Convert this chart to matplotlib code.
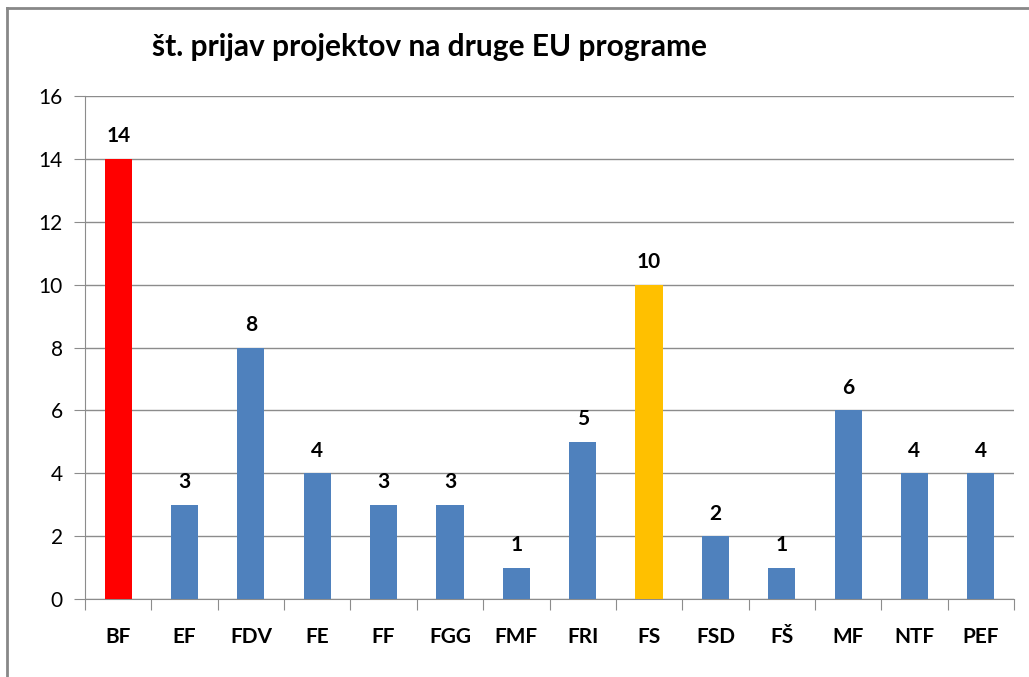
import matplotlib.pyplot as plt
from matplotlib.lines import Line2D

# podatki
fakultete = ['BF', 'EF', 'FDV', 'FE', 'FF', 'FGG', 'FMF', 'FRI', 'FS', 'FSD', 'FŠ', 'MF', 'NTF', 'PEF']
prijave = [14, 3, 8, 4, 3, 3, 1, 5, 10, 2, 1, 6, 4, 4]
barve = ['#FF0000', '#4F81BD', '#4F81BD', '#4F81BD', '#4F81BD', '#4F81BD', '#4F81BD',
         '#4F81BD', '#FFC000', '#4F81BD', '#4F81BD', '#4F81BD', '#4F81BD', '#4F81BD']

plt.rcParams['font.family'] = ['Lato', 'DejaVu Sans']

fig = plt.figure(figsize=(10.29, 6.77), dpi=100)
ax = fig.add_axes([85 / 1029, 1 - 599 / 677, (1014 - 85) / 1029, (599 - 96) / 677])

x = list(range(len(fakultete)))
ax.bar(x, prijave, width=0.41, color=barve, zorder=3)
for xi, v in zip(x, prijave):
    ax.text(xi, v + 0.4, str(v), ha='center', va='bottom', fontsize=15, fontweight='bold')

ax.set_xlim(-0.5, len(fakultete) - 0.5)
ax.set_ylim(0, 16)
ax.set_yticks(range(0, 17, 2))
ax.yaxis.grid(True, color='#8C8C8C', linewidth=1, zorder=0)

ax.set_xticks([i - 0.5 for i in range(len(fakultete) + 1)], minor=False)
ax.set_xticklabels([])
ax.set_xticks(x, minor=True)
ax.set_xticklabels(fakultete, minor=True, fontsize=15, fontweight='bold')
ax.tick_params(axis='x', which='major', length=8, color='#8C8C8C', direction='out')
ax.tick_params(axis='x', which='minor', length=0, pad=20)
ax.tick_params(axis='y', length=8, color='#8C8C8C', labelsize=15, pad=8)

for s in ['top', 'right']:
    ax.spines[s].set_visible(False)
ax.spines['left'].set_color('#8C8C8C')
ax.spines['bottom'].set_color('#8C8C8C')

fig.text(429 / 1029, 1 - 47 / 677, 'št. prijav projektov na druge EU programe',
         ha='center', va='center', fontsize=21.5, fontweight='bold')

# okvir grafa
fig.add_artist(Line2D([7 / 1029, 7 / 1029], [0, 1 - 8 / 677], color='#888888', linewidth=2,
                      transform=fig.transFigure))
fig.add_artist(Line2D([7 / 1029, 1], [1 - 8 / 677, 1 - 8 / 677], color='#888888', linewidth=2,
                      transform=fig.transFigure))

fig.savefig('out.png', dpi=100)
